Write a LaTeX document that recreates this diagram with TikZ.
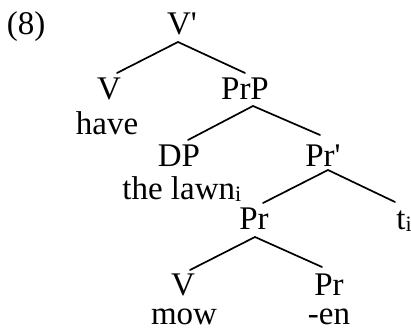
\documentclass[tikz,border=0pt]{standalone}
\usepackage{fontspec}
\setmainfont{Liberation Serif}
\usetikzlibrary{calc}
\newcommand{\subi}{\raisebox{-1pt}{\fontsize{11}{12}\selectfont i}}
\begin{document}
\begin{tikzpicture}[x=0.5pt,y=-0.5pt,
  lbl/.style={anchor=base,inner sep=0pt,font=\fontsize{16.5}{18}\selectfont},
  edge/.style={line width=0.85pt,line cap=round}]
\useasboundingbox (0,0) rectangle (411,330);
\node[lbl] (ex) at (26,35) {(8)};
\node[lbl] (vbar) at (182,35) {V\textquotesingle};
\node[lbl] (v1) at (109,100) {V};
\node[lbl] (prp) at (245,100) {PrP};
\node[lbl] (have) at (107,135) {have};
\node[lbl] (dp) at (179,167) {DP};
\node[lbl] (prbar) at (323,167) {Pr\textquotesingle};
\node[lbl,anchor=base west] (lawn) at (122,200) {the lawn\subi};
\node[lbl] (pr) at (254,230) {Pr};
\node[lbl,anchor=base west] (t) at (396,230) {t\subi};
\node[lbl] (v2) at (183,296) {V};
\node[lbl] (pr2) at (329,296) {Pr};
\node[lbl] (mow) at (184,325) {mow};
\node[lbl] (en) at (329,325) {-en};
\draw[edge] ($(vbar.base)+(-4,7)$) -- ($(v1.base)+(8,-27)$);
\draw[edge] ($(vbar.base)+(-4,7)$) -- ($(prp.base)+(0,-27)$);
\draw[edge] ($(prp.base)+(8,6)$) -- ($(dp.base)+(9,-27)$);
\draw[edge] ($(prp.base)+(8,6)$) -- ($(prbar.base)+(-3,-32)$);
\draw[edge] ($(prbar.base)+(5,3)$) -- ($(pr.base)+(9,-27)$);
\draw[edge] ($(prbar.base)+(5,3)$) -- ($(t.base west)+(-1,-28)$);
\draw[edge] ($(pr.base)+(1,7)$) -- ($(v2.base)+(7,-26)$);
\draw[edge] ($(pr.base)+(1,7)$) -- ($(pr2.base)+(-7,-29)$);
\end{tikzpicture}
\end{document}
